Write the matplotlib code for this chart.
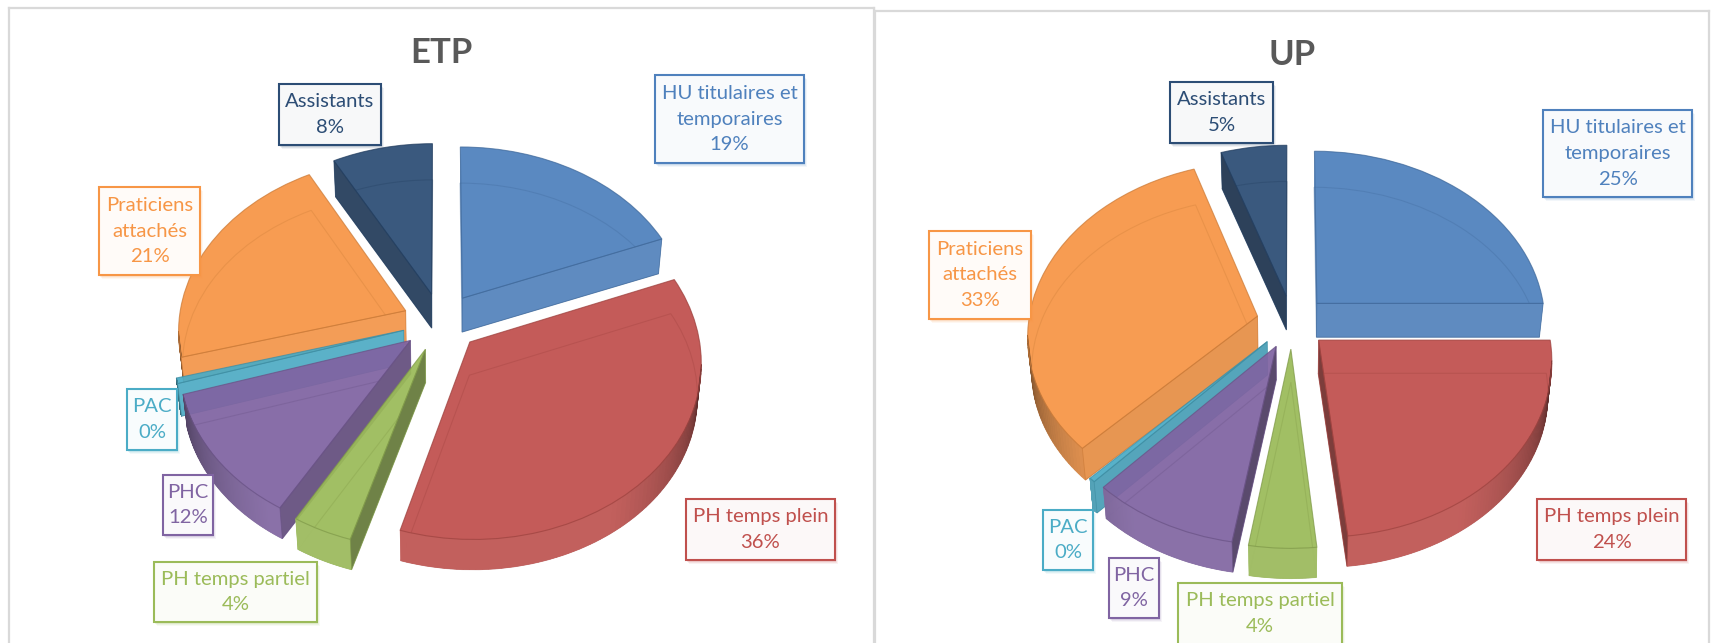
import numpy as np
import matplotlib
matplotlib.use("Agg")
import matplotlib.pyplot as plt
from matplotlib.patches import Rectangle, Polygon
from matplotlib.collections import PolyCollection
from matplotlib.colors import to_rgb, to_rgba
from matplotlib.transforms import Transform

# ---- data ----
categories = ["HU titulaires et\ntemporaires", "PH temps plein", "PH temps partiel",
              "PHC", "PAC", "Praticiens\nattachés", "Assistants"]
etp_values = [19.0, 35.6, 3.8, 11.8, 0.5, 21.3, 8.0]
up_values = [25.0, 23.4, 4.2, 9.3, 0.4, 32.5, 5.2]
etp_labels = ["19%", "36%", "4%", "12%", "0%", "21%", "8%"]
up_labels = ["25%", "24%", "4%", "9%", "0%", "33%", "5%"]
colors = ["#4F81BD", "#C0504D", "#9BBB59", "#8064A2", "#4BACC6", "#F79646", "#2C4D75"]

# ---- layout (full-image pixels) ----
W, H = 1713, 643
etp_boxes = [(655, 75, 804, 163), (686, 499, 835, 560), (154, 562, 317, 622), (163, 475, 213, 535),
             (127, 389, 177, 450), (99, 187, 200, 275), (279, 84, 381, 145)]
up_boxes = [(1543, 110, 1692, 197), (1537, 499, 1686, 560), (1178, 583, 1342, 650), (1109, 558, 1159, 618),
            (1043, 510, 1093, 570), (929, 231, 1031, 319), (1170, 82, 1273, 143)]
plt.rcParams["font.family"] = ["Lato", "DejaVu Sans"]
fig = plt.figure(figsize=(W / 100, H / 100), dpi=100, facecolor="white")


class Proj(Transform):
    """Perspective view of the unit pie disc, in image pixels."""
    input_dims = output_dims = 2
    is_separable = False
    has_inverse = False

    def __init__(self, cx, cy, rx, ry, p, s=1.0, dy=0.0):
        super().__init__()
        self.a = (cx, cy, rx, ry, p, s, dy)

    def transform_non_affine(self, xy):
        cx, cy, rx, ry, p, s, dy = self.a
        xy = np.asarray(xy, float)
        w = 1 + p * xy[:, 1]
        return np.column_stack([cx + rx * s * xy[:, 0] / w, cy + dy - ry * s * xy[:, 1] / w])


def shade(c, f):
    base = 0.9 * np.array(to_rgb(c)) + 0.1
    return tuple(base * f)


def hull(pts):
    pts = sorted(map(tuple, pts))
    def half(seq):
        out = []
        for q in seq:
            while len(out) > 1 and ((out[-1][0] - out[-2][0]) * (q[1] - out[-2][1])
                                    - (out[-1][1] - out[-2][1]) * (q[0] - out[-2][0])) <= 0:
                out.pop()
            out.append(q)
        return out[:-1]
    return half(pts) + half(pts[::-1])


def draw_panel(rect, title, title_y, values, labels, boxes, hub, explode):
    x0, y0, x1, y1 = rect
    ax = fig.add_axes([x0 / W, 1 - y1 / H, (x1 - x0) / W, (y1 - y0) / H])
    top = Proj(hub[0], hub[1], hub[2], 172, 0.106)
    bot = Proj(hub[0], hub[1], hub[2], 172, 0.106, s=0.985, dy=33.5)
    exp = [explode] * len(values)
    bottoms, _ = ax.pie(values, explode=exp, colors=colors, startangle=90, counterclock=False)
    tops, _ = ax.pie(values, explode=exp, colors=colors, startangle=90, counterclock=False)

    mids = [np.sin(np.radians((w.theta1 + w.theta2) / 2)) for w in tops]
    rank = np.argsort(np.argsort(-np.array(mids)))
    for i, (wb, wt) in enumerate(zip(bottoms, tops)):
        c = colors[i]
        edge = to_rgba(np.array(to_rgb(c)) * 0.82, 0.7)
        z = 2 + rank[i]
        cen = np.array(wt.center)
        th = np.radians(np.linspace(wt.theta1, wt.theta2, 90))
        arc = cen + np.column_stack([np.cos(th), np.sin(th)])
        ring = np.vstack([cen[None], arc])
        pt, pb = top.transform_non_affine(ring), bot.transform_non_affine(ring)

        # translucent body of the slice
        ax.add_patch(Polygon(hull(np.vstack([pt, pb])), closed=True, fc=c, ec="none", alpha=0.9, zorder=z))

        # bottom face, seen through the body
        wb.set_transform(bot + ax.transData)
        wb.set(facecolor="none", edgecolor=np.array(to_rgb(c)) * 0.8, linewidth=0.8, alpha=0.38, zorder=z + 0.1)

        # outer wall, front half only
        quads, fcs = [], []
        for j in range(len(th) - 1):
            sn = np.sin((th[j] + th[j + 1]) / 2)
            if sn < -0.12:
                quads.append([pt[j + 1], pt[j + 2], pb[j + 2], pb[j + 1]])
                fcs.append(shade(c, 0.36 + 0.62 * min(1.0, abs(sn) * 1.2)))
        if quads:
            ax.add_collection(PolyCollection(quads, facecolors=fcs, edgecolors=fcs, linewidths=0.4, zorder=z + 0.2))

        # radial walls facing the viewer
        for idx, ang in ((1, wt.theta1 - 90), (len(pt) - 1, wt.theta2 + 90)):
            sn = np.sin(np.radians(ang))
            if sn < 0:
                f = 0.62 + 0.36 * min(1.0, (abs(sn) / 0.75) ** 2)
                ax.add_patch(Polygon([pt[0], pt[idx], pb[idx], pb[0]], closed=True, fc=shade(c, f),
                                     ec=edge, lw=0.6, zorder=z + 0.3))

        # top face
        wt.set_transform(top + ax.transData)
        wt.set(facecolor=to_rgba(c, 0.3), edgecolor=edge, linewidth=0.8, zorder=z + 0.4)

        # data label
        bx0, by0, bx1, by1 = boxes[i]
        for k, a in zip((4, 3, 2), (0.07, 0.10, 0.14)):
            ax.add_patch(Rectangle((bx0 + k - 1, by0 + k), bx1 - bx0, by1 - by0, fc=c, ec="none", alpha=a, zorder=19))
        tint = tuple(0.96 + 0.04 * np.array(to_rgb(c)))
        ax.add_patch(Rectangle((bx0, by0), bx1 - bx0, by1 - by0, fc=tint, ec=c, lw=1.5, zorder=20))
        ty = (by0 + min(by1, by0 + (27 * (categories[i].count("\n") + 2)) + 7)) / 2
        ax.text((bx0 + bx1) / 2, ty, categories[i] + "\n" + labels[i], color=c, fontsize=14.6,
                ha="center", va="center", linespacing=1.62, zorder=21)

    ax.set_aspect("auto")
    ax.set_xlim(x0, x1)
    ax.set_ylim(y1, y0)
    ax.set_frame_on(True)
    ax.set_xticks([])
    ax.set_yticks([])
    ax.patch.set_visible(False)
    for name, sp in ax.spines.items():
        sp.set_visible(name != "bottom")
        sp.set_color("#D9D9D9")
        sp.set_linewidth(1.6)
    ax.set_title(title, y=title_y, pad=0, fontsize=25, fontweight="bold", color="#595959")
    return ax


draw_panel((9, 8, 874, 643), "ETP", 0.9126, etp_values, etp_labels, etp_boxes, (441, 322, 227), 0.17)
draw_panel((875, 11, 1709, 643), "UP", 0.9146, up_values, up_labels, up_boxes, (1292, 322, 229), 0.155)

fig.savefig("out.png", dpi=100)
